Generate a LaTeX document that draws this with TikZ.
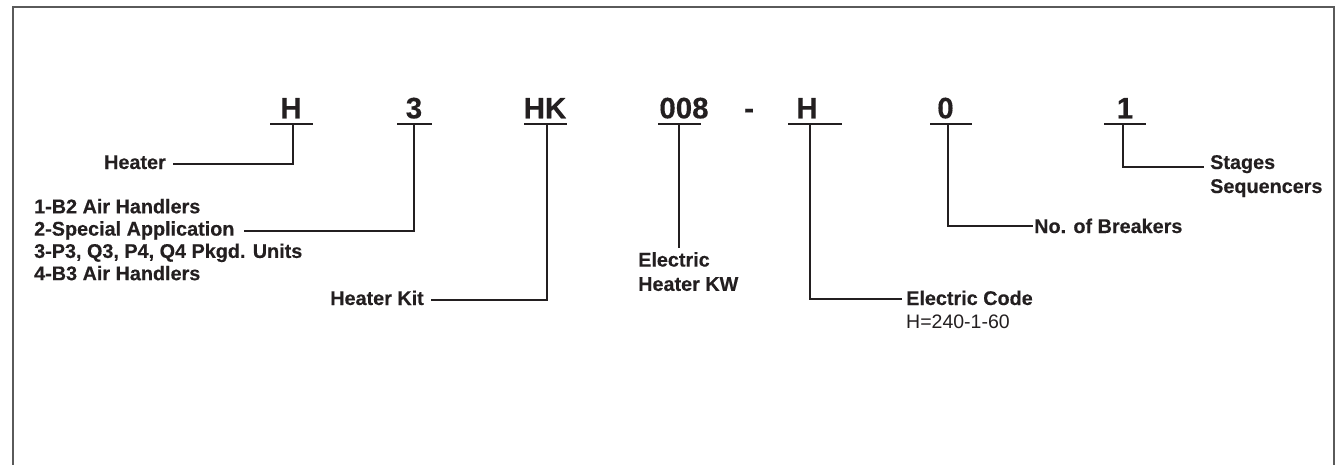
\documentclass[tikz,border=0pt]{standalone}
\usepackage{fontspec}
\setmainfont{Liberation Sans}
\newfontfamily\heavyfont[FakeBold=0.35]{Liberation Sans Bold}
\definecolor{ink}{RGB}{35,31,32}
\definecolor{framec}{RGB}{90,90,90}
\begin{document}
\begin{tikzpicture}[x=1pt,y=-1pt,
  code/.style={anchor=base,inner sep=0,text=ink,font=\heavyfont\fontsize{29.5}{32}\selectfont},
  lab/.style={inner sep=0,text=ink,font=\heavyfont\fontsize{19.8}{22.3}\selectfont},
  val/.style={inner sep=0,text=ink,font=\fontsize{19.5}{22.3}\selectfont},
  wire/.style={draw=ink,line width=2pt},
  uline/.style={draw=ink,line width=2pt}]
\useasboundingbox (0,0) rectangle (1337,465);
\draw[framec,line width=1.6pt] (13,466) -- (13,7) -- (1334,7) -- (1334,466);

% code characters
\node[code] (cH)   at (291,118.3)  {H};
\node[code] (c3)   at (414,118.3)  {3};
\node[code] (cHK)  at (545,118.3)  {HK};
\node[code] (c008) at (684,118.3)  {008};
\node[code] (cdash) at (749,118.3) {-};
\node[code] (cH2)  at (807,118.3)  {H};
\node[code] (c0)   at (945.5,118.3) {0};
\node[code] (c1)   at (1125,118.3) {1};

% underlines
\draw[uline] (270,124.5) -- (313,124.5);
\draw[uline] (397,124.5) -- (431.5,124.5);
\draw[uline] (524,124.5) -- (567,124.5);
\draw[uline] (658,124.5) -- (701,124.5);
\draw[uline] (788,124.5) -- (842,124.5);
\draw[uline] (930,124.5) -- (972,124.5);
\draw[uline] (1104,124.5) -- (1146,124.5);

\coordinate (uH)   at (293,124.5);
\coordinate (u3)   at (414,124.5);
\coordinate (uHK)  at (547,124.5);
\coordinate (u008) at (679,124.5);
\coordinate (uH2)  at (810,124.5);
\coordinate (u0)   at (948,124.5);
\coordinate (u1)   at (1123,124.5);

% labels
\node[lab,anchor=base east] (heater) at (166,169) {Heater};
\node[lab,anchor=base west] (l1) at (34,213.3) {1-B2 Air Handlers};
\node[lab,anchor=base west] (l2) at (34,235.6) {2-Special Application};
\node[lab,anchor=base west] (l3) at (34,257.9) {3-P3, Q3, P4, Q4 Pkgd. Units};
\node[lab,anchor=base west] (l4) at (34,280.2) {4-B3 Air Handlers};
\node[lab,anchor=base east] (hkit) at (424,305) {Heater Kit};
\node[lab,anchor=north west,align=left,font=\heavyfont\fontsize{19.8}{24.3}\selectfont] (kw) at (638,252) {Electric\\Heater KW};
\node[lab,anchor=base west] (ec) at (906,305) {Electric Code};
\node[val,anchor=base west] (ecv) at (906,328.3) {H=240-1-60};
\node[lab,anchor=base west] (nb) at (1034,233) {No. of Breakers};
\node[lab,anchor=base west] (st) at (1210,169) {Stages};
\node[lab,anchor=base west] (sq) at (1210,193) {Sequencers};

% connectors
\draw[wire] (uH) |- ([xshift=7pt,yshift=5pt]heater.base east);
\draw[wire] (u3) |- ([xshift=9.3pt,yshift=4.4pt]l2.base east);
\draw[wire] (uHK) |- ([xshift=6.7pt,yshift=5.5pt]hkit.base east);
\draw[wire,shorten >=4pt] (u008) -- (u008 |- kw.north);
\draw[wire] (uH2) |- ([xshift=-4.3pt,yshift=5.7pt]ec.base west);
\draw[wire] (u0) |- ([xshift=-1.3pt,yshift=7pt]nb.base west);
\draw[wire] (u1) |- ([xshift=-6pt,yshift=1.7pt]st.base west);
\end{tikzpicture}
\end{document}
